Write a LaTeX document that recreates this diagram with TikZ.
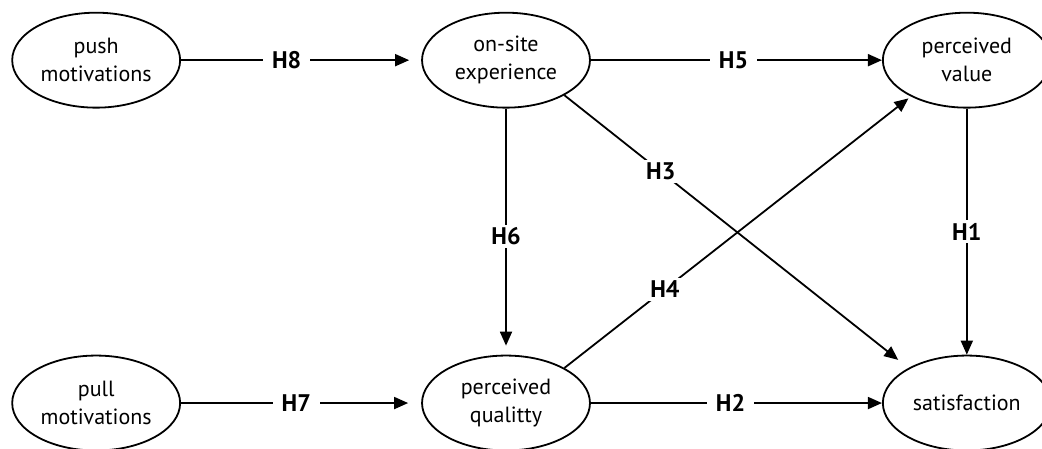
\documentclass[tikz,border=0pt]{standalone}
\usepackage{fontspec}
\setmainfont{PT Sans}
\usetikzlibrary{shapes.geometric,arrows.meta}

\begin{document}
\begin{tikzpicture}[x=1pt,y=1pt,
  construct/.style={draw,ellipse,line width=1.8pt,minimum width=168pt,minimum height=95pt,
    inner sep=0pt,align=center,font=\fontsize{22}{28}\selectfont},
  hypo/.style={line width=1.8pt,-{Triangle[length=14pt,width=12pt]}},
  hlabel/.style={fill=white,inner xsep=9pt,inner ysep=3pt,font=\bfseries\fontsize{24}{28}\selectfont}]
\filldraw[color=white] (0,0) rectangle (1042,448);
\useasboundingbox (0,0) rectangle (1042,448);
% Drawing constructs
% Row 1: push -> on-site -> value
\node[construct] (push) at (96,388) {push\\motivations};
\node[construct] (onsite) at (506,388) {on-site\\experience};
\node[construct] (value) at (967,388) {perceived\\value};
% Row 2: pull -> quality -> satisfaction
\node[construct] (pull) at (96,45) {pull\\motivations};
\node[construct] (quality) at (506,45) {perceived\\qualitty};
\node[construct] (satis) at (967,45) {satisfaction};
% Done with constructs; drawing hypotheses
\draw[hypo,shorten >=12pt] (push) -- node[hlabel,pos=0.44] {H8} (onsite);
\draw[hypo] (onsite) -- node[hlabel,pos=0.49] {H5} (value);
\draw[hypo,shorten >=13pt] (pull) -- node[hlabel,pos=0.48] {H7} (quality);
\draw[hypo] (quality) -- node[hlabel,pos=0.48] {H2} (satis);
\draw[hypo,shorten >=9pt] (onsite) -- node[hlabel,pos=0.52] {H6} (quality);
\draw[hypo] (value) -- node[hlabel,pos=0.5] {H1} (satis);
% Crossing paths
\draw[hypo,shorten >=13pt] (onsite.-31) -- node[hlabel,pos=0.28] {H3} (satis.149);
\draw[hypo,shorten >=3pt] (quality.31) -- node[hlabel,pos=0.29] {H4} (value.-147);
% Done with hypotheses
\end{tikzpicture}
\end{document}
